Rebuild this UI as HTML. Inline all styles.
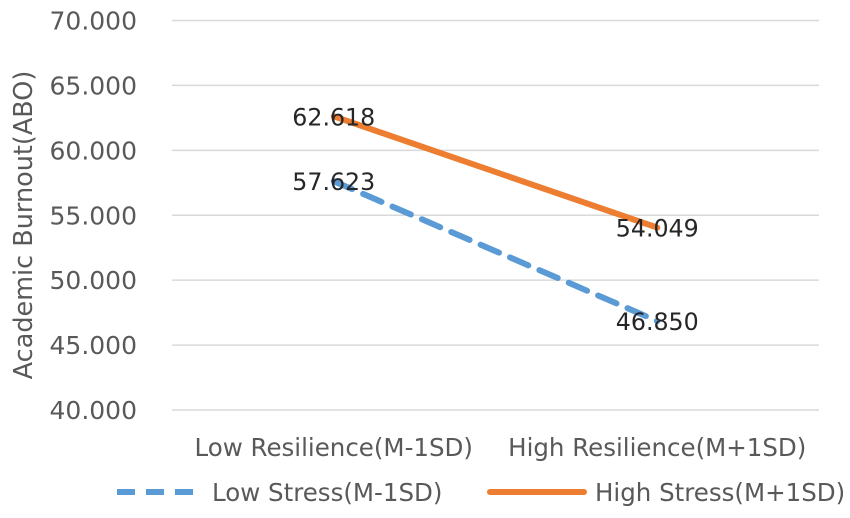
<!DOCTYPE html>
<html><head><meta charset="utf-8"><style>
html,body{margin:0;padding:0;background:#fff;}
svg{display:block;font-family:"DejaVu Sans","Liberation Sans",sans-serif;}
</style></head><body>
<svg id="chart" width="850" height="518" viewBox="0 0 850 518">
<g id="grid"></g>
<g id="yticks"></g>
<g id="xticks"></g>
<g id="series"></g>
<g id="labels"></g>
<text transform="translate(32,225) rotate(-90)" text-anchor="middle" font-size="25.5" fill="#595959">Academic Burnout(ABO)</text>
<g>
<g>
<line x1="117" y1="492" x2="197" y2="492" stroke="#5b9bd5" stroke-width="6" stroke-dasharray="18,11"/>
<text x="212" y="501" font-size="24.5" fill="#595959">Low Stress(M-1SD)</text></g>
<g>
<line x1="490" y1="492" x2="584" y2="492" stroke="#ed7d31" stroke-width="6" stroke-linecap="round"/>
<text x="595" y="501" font-size="24.5" fill="#595959">High Stress(M+1SD)</text></g>
</g>
</svg>
<script>
const categories=["Low Resilience(M-1SD)","High Resilience(M+1SD)"];
const lowStress=[57.623,46.850];
const highStress=[62.618,54.049];
const yTicks=[40,45,50,55,60,65,70];
const NS="http://www.w3.org/2000/svg";
const x0=172,x1=819,yTop=20.5,yBot=410,yMin=40,yMax=70;
const y=v=>yBot-(v-yMin)/(yMax-yMin)*(yBot-yTop);
const x=i=>x0+(x1-x0)*(i+0.5)/categories.length;
function mk(tag,attrs,parent){const e=document.createElementNS(NS,tag);for(const k in attrs)e.setAttribute(k,attrs[k]);parent.appendChild(e);return e;}
const G=id=>document.getElementById(id);
yTicks.forEach(t=>{
 const l=mk('line',{x1:x0,x2:x1,y1:y(t),y2:y(t),stroke:'#d9d9d9','stroke-width':1.5},G('grid'));
 
 
 const tx=mk('text',{x:137,y:y(t)+9,'text-anchor':'end','font-size':25,fill:'#595959'},G('yticks'));
 tx.textContent=t.toFixed(3);
 
 
});
categories.forEach((c,i)=>{
 const tx=mk('text',{x:x(i),y:456,'text-anchor':'middle','font-size':24.5,fill:'#595959'},G('xticks'));
 tx.textContent=c;
 
 
});
function series(vals,attrs,name){
 const p=mk('polyline',Object.assign({points:vals.map((v,i)=>x(i)+','+y(v)).join(' '),fill:'none'},attrs),G('series'));
 
 
 vals.forEach((v,i)=>{
  const t=mk('text',{x:x(i),y:y(v)+9,'text-anchor':'middle','font-size':23.7,fill:'#262626'},G('labels'));
  t.textContent=v.toFixed(3);
  
  
 });
}
series(highStress,{stroke:'#ed7d31','stroke-width':6,'stroke-linecap':'round'},'high-stress-line');
series(lowStress,{stroke:'#5b9bd5','stroke-width':6,'stroke-dasharray':'20,12','stroke-linecap':'round'},'low-stress-line');
</script>
</body></html>
